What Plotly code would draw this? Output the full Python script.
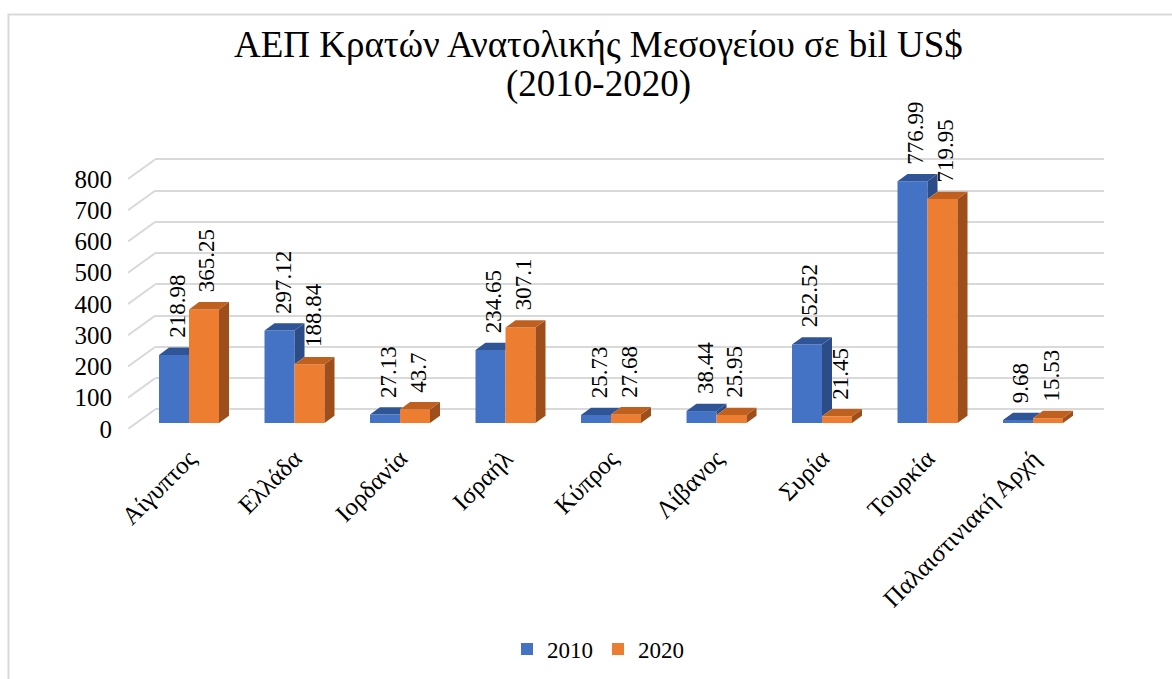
import plotly.graph_objects as go

# ---------------- data ----------------
countries = ["Αίγυπτος", "Ελλάδα", "Ιορδανία", "Ισραήλ", "Κύπρος",
             "Λίβανος", "Συρία", "Τουρκία", "Παλαιστινιακή Αρχή"]
gdp_2010 = [218.98, 297.12, 27.13, 234.65, 25.73, 38.44, 252.52, 776.99, 9.68]
gdp_2020 = [365.25, 188.84, 43.7, 307.1, 27.68, 25.95, 21.45, 719.95, 15.53]
y_ticks = [0, 100, 200, 300, 400, 500, 600, 700, 800]
series_names = ["2010", "2020"]
title_lines = ["ΑΕΠ Κρατών Ανατολικής Μεσογείου σε bil US$", "(2010-2020)"]

# ---------------- styling / geometry ----------------
W, H = 1172, 679
FONT = "Times New Roman, Liberation Serif, serif"
BLUE, BLUE_TOP, BLUE_SIDE = "#4472C4", "#2F5597", "#2B4C86"
ORANGE, ORANGE_TOP, ORANGE_SIDE = "#ED7D31", "#C0601E", "#9E4E1A"
GRID = "#d9d9d9"

def py(p):
    return 1 - p / H

def px(p):
    return p / W

cat_px = 105.5            # pixel width of one category band
x_left = 189 - cat_px / 2
bar_w = 30 / cat_px       # width of one bar in category units
px_per_val = 0.311        # bar axis pixels per value
ddx = 10 / cat_px         # depth offset of bar tops (x, category units)
ddy = 7.3 / px_per_val    # depth offset of bar tops (y, value units)

grid_scale = 0.3125
back0 = 409.5             # pixel y of value 0 on back wall
front0 = 429.0            # pixel y of value 0 on front (label) plane
diag_off = (front0 - back0) / grid_scale

idx = list(range(len(countries)))

fig = go.Figure()

# back-wall grid subplot (x / y)
fig.add_trace(go.Scatter(x=[0.5], y=[0], mode="markers", marker=dict(opacity=0),
                         hoverinfo="skip", showlegend=False, xaxis="x", yaxis="y"))

# front-face bars (x2 / y2)
fig.add_trace(go.Bar(x=idx, y=gdp_2010, name=series_names[0], marker=dict(color=BLUE, line=dict(width=0)),
                     xaxis="x2", yaxis="y2"))
fig.add_trace(go.Bar(x=idx, y=gdp_2020, name=series_names[1], marker=dict(color=ORANGE, line=dict(width=0)),
                     xaxis="x2", yaxis="y2"))

# side-wall diagonals + value labels (x3 / y3)
dx_, dy_ = [], []
for v in y_ticks:
    dx_ += [0, 1, None]
    dy_ += [v, v + diag_off, None]
fig.add_trace(go.Scatter(x=dx_, y=dy_, mode="lines", line=dict(color=GRID, width=2),
                         hoverinfo="skip", showlegend=False, xaxis="x3", yaxis="y3"))

# ---------------- 3D faces computed from the data ----------------
def poly(points, color):
    d = "M " + " L ".join(f"{x},{y}" for x, y in points) + " Z"
    return dict(type="path", path=d, xref="x2", yref="y2", fillcolor=color,
                line=dict(width=0), layer="above")

shapes = []
for i, (vb, vo) in enumerate(zip(gdp_2010, gdp_2020)):
    c = i
    if vb > vo:
        shapes.append(poly([(c, vo), (c, vb), (c + ddx, vb + ddy), (c + ddx, vo + ddy)], BLUE_SIDE))
    voc = min(max(vo, vb), vb + ddy)
    shapes.append(poly([(c - bar_w, vb), (c, vb), (c, voc),
                        (c + (vb + ddy - voc) * ddx / ddy, vb + ddy),
                        (c - bar_w + ddx, vb + ddy)], BLUE_TOP))
    shapes.append(poly([(c + bar_w, 0), (c + bar_w, vo), (c + bar_w + ddx, vo + ddy),
                        (c + bar_w + ddx, ddy)], ORANGE_SIDE))
    shapes.append(poly([(c, vo), (c + bar_w, vo), (c + bar_w + ddx, vo + ddy),
                        (c + ddx, vo + ddy)], ORANGE_TOP))

# outer chart border
shapes.append(dict(type="rect", xref="paper", yref="paper", x0=px(8.5), x1=1.02,
                   y0=-0.05, y1=py(14.5), line=dict(color=GRID, width=2), layer="below"))

# ---------------- text ----------------
annotations = []
for i, (vb, vo) in enumerate(zip(gdp_2010, gdp_2020)):
    for v, xc in ((vb, i - bar_w / 2 + ddx / 3), (vo, i + bar_w / 2 + ddx / 3)):
        annotations.append(dict(x=xc, y=v, xref="x2", yref="y2", text=f"{v:g}",
                                showarrow=False, textangle=-90, xanchor="center",
                                yanchor="bottom", yshift=15,
                                font=dict(family=FONT, size=23, color="black")))

for line, yc in zip(title_lines, (45, 84)):
    annotations.append(dict(x=px(598), y=py(yc), xref="paper", yref="paper", text=line,
                            showarrow=False, xanchor="center", yanchor="middle",
                            font=dict(family=FONT, size=37, color="black")))

fig.update_layout(
    width=W, height=H,
    margin=dict(l=0, r=0, t=0, b=0),
    paper_bgcolor="white", plot_bgcolor="rgba(0,0,0,0)",
    font=dict(family=FONT, color="black"),
    barmode="group", bargap=1 - 2 * bar_w, bargroupgap=0,
    showlegend=True,
    legend=dict(orientation="h", x=px(598), xanchor="center", y=py(649), yanchor="middle",
                font=dict(family=FONT, size=23, color="black"), bgcolor="rgba(0,0,0,0)"),
    xaxis=dict(domain=[px(155), px(1104)], range=[0, 1], visible=False, anchor="y"),
    yaxis=dict(domain=[py(back0 + 5 * grid_scale), py(back0 - 805 * grid_scale)], range=[-5, 805],
               tickvals=y_ticks, showgrid=True, gridcolor=GRID, gridwidth=2,
               showticklabels=False, zeroline=False, showline=False, anchor="x"),
    xaxis2=dict(domain=[px(x_left), px(x_left + cat_px * len(countries))],
                range=[-0.5, len(countries) - 0.5], tickvals=idx, ticktext=countries,
                tickangle=-45, ticks="outside", ticklen=10, tickcolor="rgba(0,0,0,0)",
                showgrid=False, zeroline=False, showline=False, anchor="y2", automargin=False,
                tickfont=dict(family=FONT, size=25, color="black")),
    yaxis2=dict(domain=[py(423), py(423 - 1000 * px_per_val)], range=[0, 1000],
                visible=False, anchor="x2"),
    xaxis3=dict(domain=[px(128), px(155)], range=[0, 1], visible=False, anchor="y3"),
    yaxis3=dict(domain=[py(front0), py(front0 - 870 * grid_scale)], range=[0, 870],
                tickvals=y_ticks, ticktext=[str(v) for v in y_ticks],
                ticks="outside", ticklen=10, tickcolor="rgba(0,0,0,0)",
                showgrid=False, zeroline=False, showline=False, anchor="x3", automargin=False,
                tickfont=dict(family=FONT, size=25, color="black")),
    shapes=shapes,
    annotations=annotations,
)

fig.write_html("out.html", config={"displayModeBar": False},
               post_script="document.body.style.margin='0';document.body.style.overflow='hidden';")
